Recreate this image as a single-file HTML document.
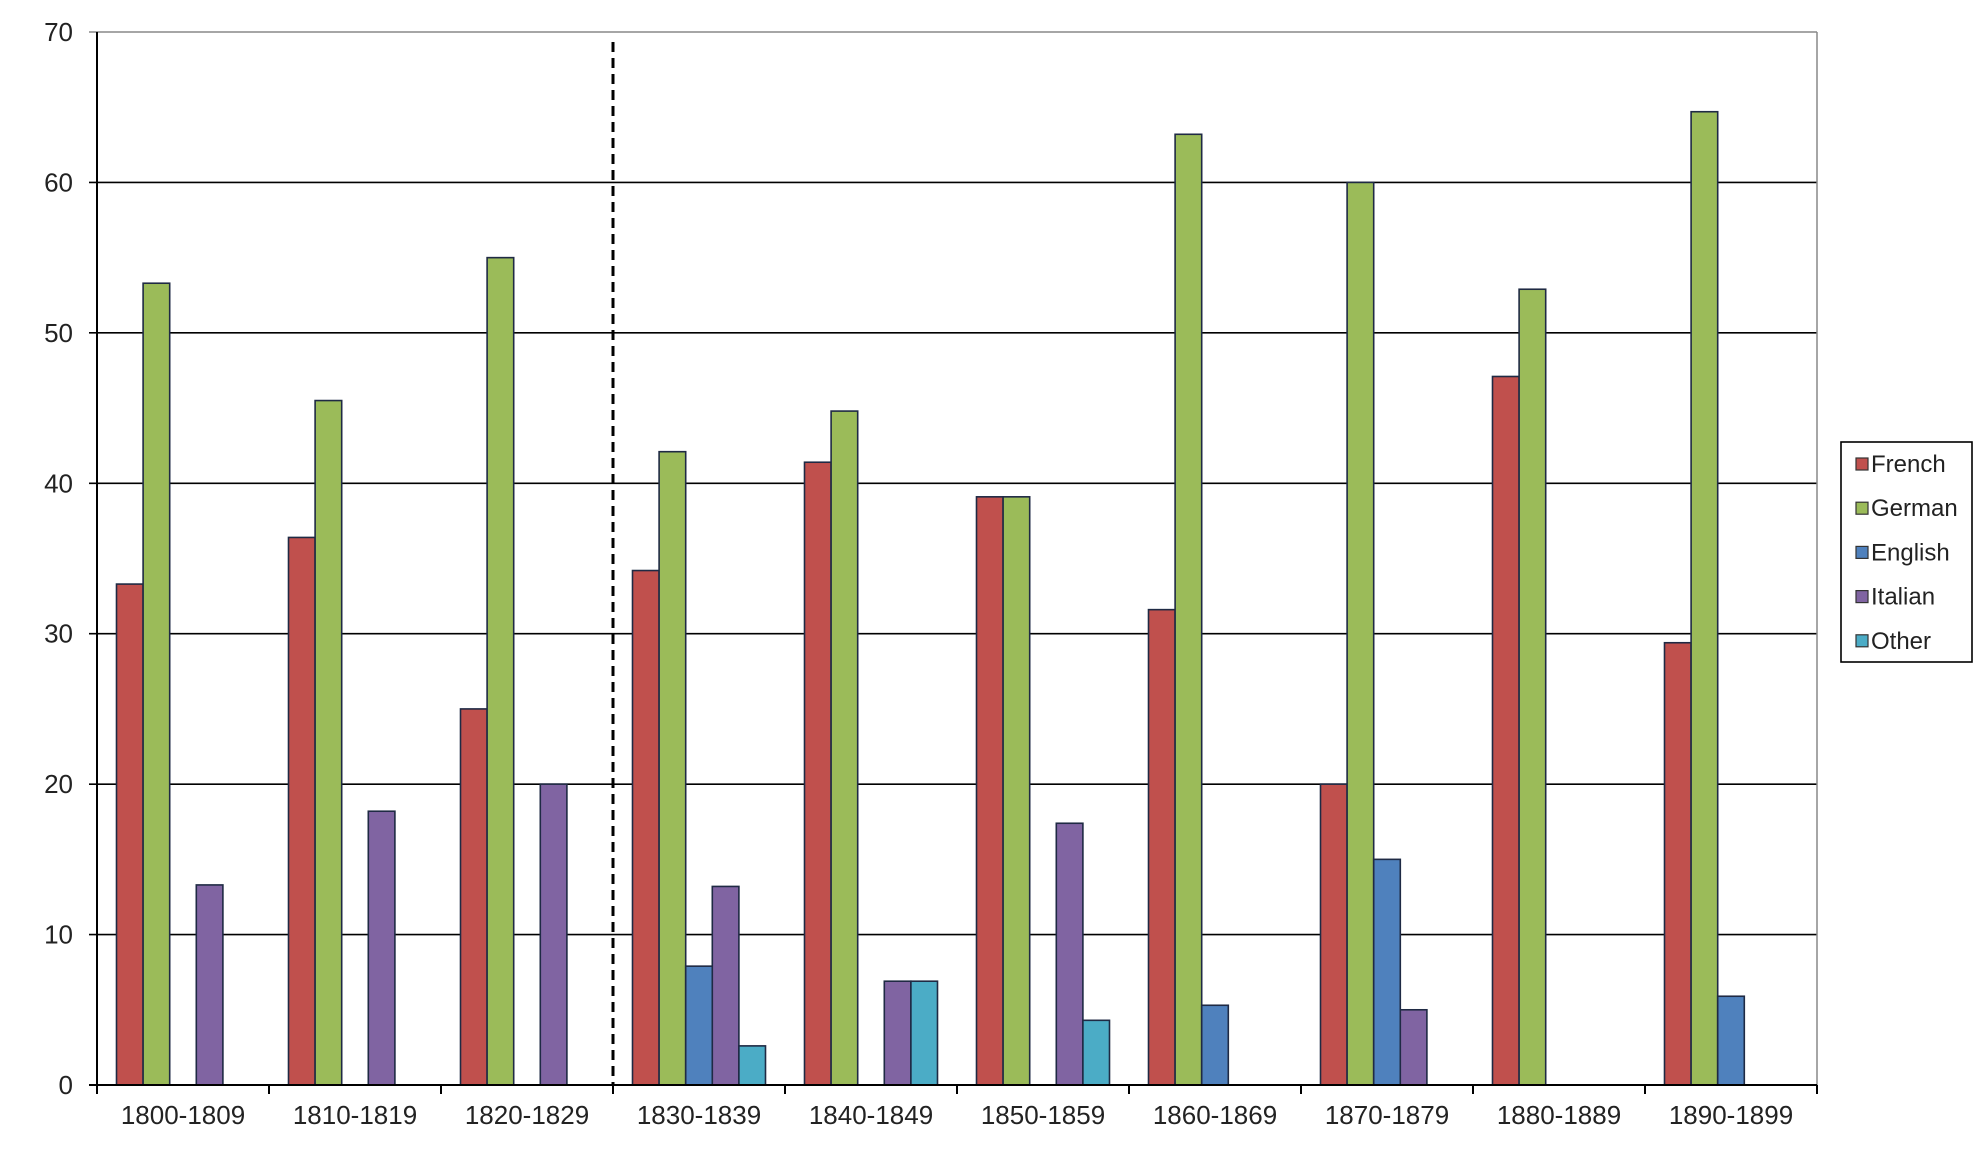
<!DOCTYPE html>
<html><head><meta charset="utf-8"><style>
body{margin:0;background:#fff;}
svg{display:block;font-family:"Liberation Sans",Arial,sans-serif;}
</style></head><body>
<svg id="c" width="1981" height="1154" xmlns="http://www.w3.org/2000/svg"></svg>
<script>
const categories=["1800-1809","1810-1819","1820-1829","1830-1839","1840-1849","1850-1859","1860-1869","1870-1879","1880-1889","1890-1899"];
const french=[33.3,36.4,25,34.2,41.4,39.1,31.6,20,47.1,29.4];
const german=[53.3,45.5,55,42.1,44.8,39.1,63.2,60,52.9,64.7];
const english=[0,0,0,7.9,0,0,5.3,15,0,5.9];
const italian=[13.3,18.2,20,13.2,6.9,17.4,0,5,0,0];
const other=[0,0,0,2.6,6.9,4.3,0,0,0,0];
const yTicks=[0,10,20,30,40,50,60,70];
const seriesNames=["French","German","English","Italian","Other"];

const svg=document.getElementById('c');
const NS="http://www.w3.org/2000/svg";
const L=97,R=1817,T=32,B=1085,YMAX=70;
const y=v=>B-(v/YMAX)*(B-T);
const cw=(R-L)/categories.length;
const bw=26.6,off=19.5;
const x=(i,s)=>L+i*cw+off+s*bw;
function mk(t,a){const e=document.createElementNS(NS,t);for(const k in a)e.setAttribute(k,a[k]);svg.appendChild(e);return e;}
const colors=["#c0504d","#9bbb59","#4f81bd","#8064a2","#4bacc6"];
const data=[french,german,english,italian,other];

yTicks.forEach(v=>{
  if(v>0){const g=mk('line',{x1:L-8,x2:R,y1:y(v),y2:y(v),stroke:v===70?'#888':'#000','stroke-width':1.6});
  
  }
  const t=mk('text',{x:L-24,y:y(v)+9,'text-anchor':'end','font-size':26,fill:'#222'});
  t.textContent=v;
  
  
});
const rb=mk('line',{x1:R,x2:R,y1:T,y2:B,stroke:'#888','stroke-width':1.5});



data.forEach((arr,s)=>{
  arr.forEach((v,i)=>{
    if(v<=0)return;
    const r=mk('rect',{x:x(i,s),y:y(v),width:bw,height:B-y(v),fill:colors[s],stroke:'#1f2a44','stroke-width':1.6});
    
    
  });
});

const ya=mk('line',{x1:L,x2:L,y1:T,y2:B,stroke:'#000','stroke-width':2});


const xa=mk('line',{x1:L-8,x2:R,y1:B,y2:B,stroke:'#000','stroke-width':2});


for(let i=0;i<=categories.length;i++){
  const tk=mk('line',{x1:L+i*cw,x2:L+i*cw,y1:B,y2:B+9,stroke:'#000','stroke-width':2});
  
  
}
categories.forEach((c,i)=>{
  const t=mk('text',{x:L+(i+0.5)*cw,y:B+39,'text-anchor':'middle','font-size':26,fill:'#222'});
  t.textContent=c;
  
  
});

const d=mk('line',{x1:L+3*cw,x2:L+3*cw,y1:42,y2:B,stroke:'#000','stroke-width':3,'stroke-dasharray':'10,6'});



const lb=mk('rect',{x:1841,y:442,width:131,height:220,fill:'#fff',stroke:'#000','stroke-width':1.6});


seriesNames.forEach((n,s)=>{
  const cy=464+s*44.2;
  const sw=mk('rect',{x:1856,y:cy-6,width:12,height:12,fill:colors[s],stroke:'#333','stroke-width':1.2});
  
  
  const t=mk('text',{x:1871,y:cy+8,'font-size':24,fill:'#222'});
  t.textContent=n;
  
  
});
</script>
</body></html>
